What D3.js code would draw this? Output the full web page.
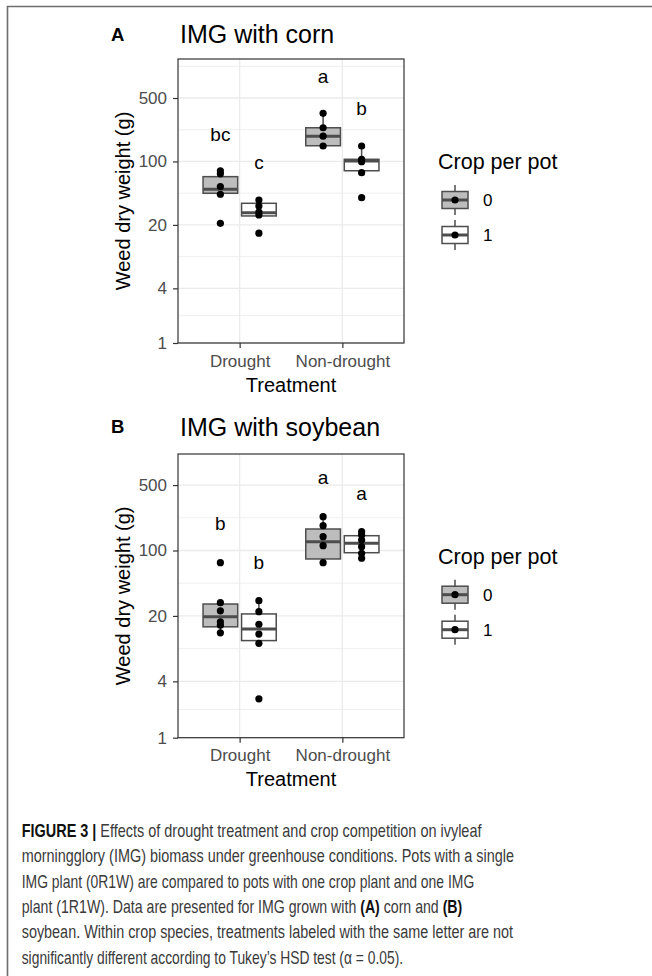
<!DOCTYPE html>
<html>
<head>
<meta charset="utf-8">
<script src="https://cdn.jsdelivr.net/npm/d3@7"></script>
<style>
  body { margin: 0; background: #fff; }
  svg { display: block; font-family: "Liberation Sans", Arial, sans-serif; }
</style>
</head>
<body>
<div id="chart"></div>
<script>
/* --- Data --- */
const treatments = ["Drought", "Non-drought"];
const crops = ["0", "1"];
const yTicks = [1, 4, 20, 100, 500];

// box stats: lower whisker, q1, median, q3, upper whisker
const cornBoxes = [
    { treatment: "Drought", crop: "0", lo: 43.5, q1: 44.6, med: 49.5, q3: 68, hi: 79 },
    { treatment: "Drought", crop: "1", lo: 25.1, q1: 25.1, med: 27.3, q3: 34.6, hi: 37.6 },
    { treatment: "Non-drought", crop: "0", lo: 148, q1: 149, med: 190, q3: 235, hi: 339 },
    { treatment: "Non-drought", crop: "1", lo: 75.2, q1: 79, med: 101, q3: 105.6, hi: 148 }
];
const cornPoints = [
    { treatment: "Drought", crop: "0", values: [79, 73, 53, 43.5, 20.8] },
    { treatment: "Drought", crop: "1", values: [37.6, 32.3, 27.7, 25.7, 16.2] },
    { treatment: "Non-drought", crop: "0", values: [339, 235, 190, 148] },
    { treatment: "Non-drought", crop: "1", values: [148, 105.6, 99.4, 75.2, 39.9] }
];
const cornLetters = [
    { treatment: "Drought", crop: "0", label: "bc", y: 199 },
    { treatment: "Drought", crop: "1", label: "c", y: 98.7 },
    { treatment: "Non-drought", crop: "0", label: "a", y: 865 },
    { treatment: "Non-drought", crop: "1", label: "b", y: 388 }
];

const soyBoxes = [
    { treatment: "Drought", crop: "0", lo: 13.2, q1: 15.3, med: 19.6, q3: 26.8, hi: 27.7 },
    { treatment: "Drought", crop: "1", lo: 10.2, q1: 10.9, med: 14.5, q3: 21.0, hi: 29.1 },
    { treatment: "Non-drought", crop: "0", lo: 74.1, q1: 81.2, med: 124, q3: 169.7, hi: 229.6 },
    { treatment: "Non-drought", crop: "1", lo: 82.6, q1: 94.7, med: 119.4, q3: 143.9, hi: 158.8 }
];
const soyPoints = [
    { treatment: "Drought", crop: "0", values: [74.1, 27.7, 22.7, 17.3, 15.9, 13.2] },
    { treatment: "Drought", crop: "1", values: [29.1, 22.2, 16.3, 12.8, 10.2, 2.6] },
    { treatment: "Non-drought", crop: "0", values: [229.6, 184, 140.5, 112.5, 74.1] },
    { treatment: "Non-drought", crop: "1", values: [158.8, 146.5, 129.5, 109.9, 93.3, 82.6] }
];
const soyLetters = [
    { treatment: "Drought", crop: "0", label: "b", y: 193 },
    { treatment: "Drought", crop: "1", label: "b", y: 75.4 },
    { treatment: "Non-drought", crop: "0", label: "a", y: 610 },
    { treatment: "Non-drought", crop: "1", label: "a", y: 404 }
];

const captionLines = [
    [["FIGURE 3 | ", true], ["Effects of drought treatment and crop competition on ivyleaf", false]],
    [["morningglory (IMG) biomass under greenhouse conditions. Pots with a single", false]],
    [["IMG plant (0R1W) are compared to pots with one crop plant and one IMG", false]],
    [["plant (1R1W). Data are presented for IMG grown with ", false], ["(A)", true], [" corn and ", false], ["(B)", true]],
    [["soybean. Within crop species, treatments labeled with the same letter are not", false]],
    [["significantly different according to Tukey\u2019s HSD test (\u03b1 = 0.05).", false]]
];
const captionWidths = [460, 493, 453, 441, 491.5, 381.5];

/* --- Style --- */
const COLORS = {
    frame: "#6e6e6e",
    grid: "#ebebeb",
    border: "#333333",
    tickText: "#4d4d4d",
    boxLine: "#4d4d4d",
    fill: { "0": "#bdbdbd", "1": "#ffffff" },
    caption: "#3a3a3a"
};
const W = 652, H = 976;
const PANEL_X = [178, 404];

const svg = d3.select("#chart").append("svg")
    .attr("width", W)
    .attr("height", H);

// outer figure frame (top + left edge only)
svg.append("path")
    .attr("d", `M7.5,${H} V6.5 H${W}`)
    .attr("fill", "none")
    .attr("stroke", COLORS.frame)
    .attr("stroke-width", 1.6);

function drawPanel(p) {
    const x = d3.scalePoint().domain(treatments).range(PANEL_X).padding(0.6);
    const dodge = d3.scaleBand().domain(crops)
        .range([-0.375 * x.step(), 0.375 * x.step()]);
    const y = d3.scaleLog().domain([1, p.yMax]).range([p.bottom, p.top]);
    const cx = d => x(d.treatment) + dodge(d.crop) + dodge.bandwidth() / 2;
    const bw = dodge.bandwidth() * 0.9;

    const g = svg.append("g");

    // grid: minor lines halfway (in log space) between majors
    const ext = yTicks.concat([yTicks[yTicks.length - 1] ** 2 / yTicks[yTicks.length - 2]]);
    const minor = d3.pairs(ext).map(([a, b]) => Math.sqrt(a * b))
        .filter(v => v > 1 && v < p.yMax);
    g.selectAll(".minor").data(minor).enter().append("line")
        .attr("x1", PANEL_X[0]).attr("x2", PANEL_X[1])
        .attr("y1", d => y(d)).attr("y2", d => y(d))
        .attr("stroke", COLORS.grid).attr("stroke-width", 0.8);
    g.selectAll(".major").data(yTicks).enter().append("line")
        .attr("x1", PANEL_X[0]).attr("x2", PANEL_X[1])
        .attr("y1", d => y(d)).attr("y2", d => y(d))
        .attr("stroke", COLORS.grid).attr("stroke-width", 1.3);
    g.selectAll(".vgrid").data(treatments).enter().append("line")
        .attr("x1", d => x(d)).attr("x2", d => x(d))
        .attr("y1", p.top).attr("y2", p.bottom)
        .attr("stroke", COLORS.grid).attr("stroke-width", 1.3);

    // whiskers
    g.selectAll(".whisk").data(p.boxes).enter().append("path")
        .attr("d", d => `M${cx(d)},${y(d.hi)}V${y(d.q3)}M${cx(d)},${y(d.q1)}V${y(d.lo)}`)
        .attr("stroke", COLORS.boxLine).attr("stroke-width", 1.5);

    // boxes
    g.selectAll(".box").data(p.boxes).enter().append("rect")
        .attr("x", d => cx(d) - bw / 2)
        .attr("width", bw)
        .attr("y", d => y(d.q3))
        .attr("height", d => y(d.q1) - y(d.q3))
        .attr("fill", d => COLORS.fill[d.crop])
        .attr("stroke", COLORS.boxLine).attr("stroke-width", 1.5);

    // medians
    g.selectAll(".med").data(p.boxes).enter().append("line")
        .attr("x1", d => cx(d) - bw / 2).attr("x2", d => cx(d) + bw / 2)
        .attr("y1", d => y(d.med)).attr("y2", d => y(d.med))
        .attr("stroke", COLORS.boxLine).attr("stroke-width", 3);

    // points
    const pts = p.points.flatMap(d => d.values.map(v => ({ treatment: d.treatment, crop: d.crop, v })));
    g.selectAll(".pt").data(pts).enter().append("circle")
        .attr("cx", cx)
        .attr("cy", d => y(d.v))
        .attr("r", 3.6)
        .attr("fill", "#000");

    // significance letters
    g.selectAll(".letter").data(p.letters).enter().append("text")
        .attr("x", cx)
        .attr("y", d => y(d.y))
        .attr("dy", "0.35em")
        .attr("text-anchor", "middle")
        .style("font-size", "19px")
        .attr("fill", "#000")
        .text(d => d.label);

    // panel border
    g.append("rect")
        .attr("x", PANEL_X[0]).attr("y", p.top)
        .attr("width", PANEL_X[1] - PANEL_X[0]).attr("height", p.bottom - p.top)
        .attr("fill", "none")
        .attr("stroke", COLORS.border).attr("stroke-width", 1.2);

    // axes
    const yAxis = g.append("g")
        .attr("transform", `translate(${PANEL_X[0]},0)`)
        .call(d3.axisLeft(y).tickValues(yTicks).tickFormat(d3.format("d")).tickSize(5).tickPadding(6));
    const xAxis = g.append("g")
        .attr("transform", `translate(0,${p.bottom})`)
        .call(d3.axisBottom(x).tickSize(5).tickPadding(6.5));
    [yAxis, xAxis].forEach(a => {
        a.select(".domain").remove();
        a.selectAll("line").attr("stroke", COLORS.border).attr("stroke-width", 1.2);
        a.selectAll("text")
            .attr("fill", COLORS.tickText)
            .style("font-size", "17px")
            .style("font-family", '"Liberation Sans", Arial, sans-serif');
    });

    // axis titles
    g.append("text")
        .attr("x", (PANEL_X[0] + PANEL_X[1]) / 2)
        .attr("y", p.bottom + 48.7)
        .attr("text-anchor", "middle")
        .style("font-size", "20px")
        .text("Treatment");
    g.append("text")
        .attr("transform", `translate(130,${(p.top + p.bottom) / 2}) rotate(-90)`)
        .attr("text-anchor", "middle")
        .style("font-size", "20px")
        .text("Weed dry weight (g)");

    // panel tag + title
    g.append("text")
        .attr("x", 111).attr("y", p.tagY)
        .style("font-size", "18.5px").style("font-weight", "bold")
        .text(p.tag);
    g.append("text")
        .attr("x", 180).attr("y", p.titleY)
        .style("font-size", "25px")
        .text(p.title);

    // legend
    const lg = g.append("g");
    lg.append("text")
        .attr("x", 438).attr("y", p.legendY)
        .style("font-size", "21.5px")
        .text("Crop per pot");
    const keys = lg.selectAll(".key").data(crops).enter().append("g")
        .attr("transform", (d, i) => `translate(455,${p.legendY + 30.7 + i * 35})`);
    keys.append("line")
        .attr("y1", -15).attr("y2", 15)
        .attr("stroke", COLORS.boxLine).attr("stroke-width", 1.5);
    keys.append("rect")
        .attr("x", -13).attr("y", -8.5)
        .attr("width", 26).attr("height", 17)
        .attr("fill", d => COLORS.fill[d])
        .attr("stroke", COLORS.boxLine).attr("stroke-width", 1.5);
    keys.append("line")
        .attr("x1", -13).attr("x2", 13)
        .attr("stroke", COLORS.boxLine).attr("stroke-width", 3);
    keys.append("circle").attr("r", 3.6).attr("fill", "#000");
    keys.append("text")
        .attr("x", 28).attr("dy", "0.36em")
        .style("font-size", "17px")
        .text(d => d);
}

drawPanel({
    tag: "A", title: "IMG with corn", tagY: 41, titleY: 43,
    top: 59, bottom: 343, yMax: 1345, legendY: 169.3,
    boxes: cornBoxes, points: cornPoints, letters: cornLetters
});
drawPanel({
    tag: "B", title: "IMG with soybean", tagY: 433.3, titleY: 436,
    top: 454, bottom: 737.7, yMax: 1074, legendY: 564,
    boxes: soyBoxes, points: soyPoints, letters: soyLetters
});

// caption: each line squeezed horizontally to the condensed width of the original
const cap = svg.append("g");
captionLines.forEach((segs, i) => {
    const line = cap.append("g")
        .attr("transform", `translate(21.7,${837 + i * 25.3})`);
    const t = line.append("text")
        .style("font-size", "18px")
        .style("white-space", "pre")
        .attr("fill", COLORS.caption);
    segs.forEach(([s, bold]) => {
        t.append("tspan")
            .style("font-weight", bold ? "bold" : "normal")
            .attr("fill", bold ? "#111" : COLORS.caption)
            .text(s);
    });
    const k = captionWidths[i] / t.node().getComputedTextLength();
    line.attr("transform", `translate(21.7,${837 + i * 25.3}) scale(${k},1)`);
});
</script>
</body>
</html>
